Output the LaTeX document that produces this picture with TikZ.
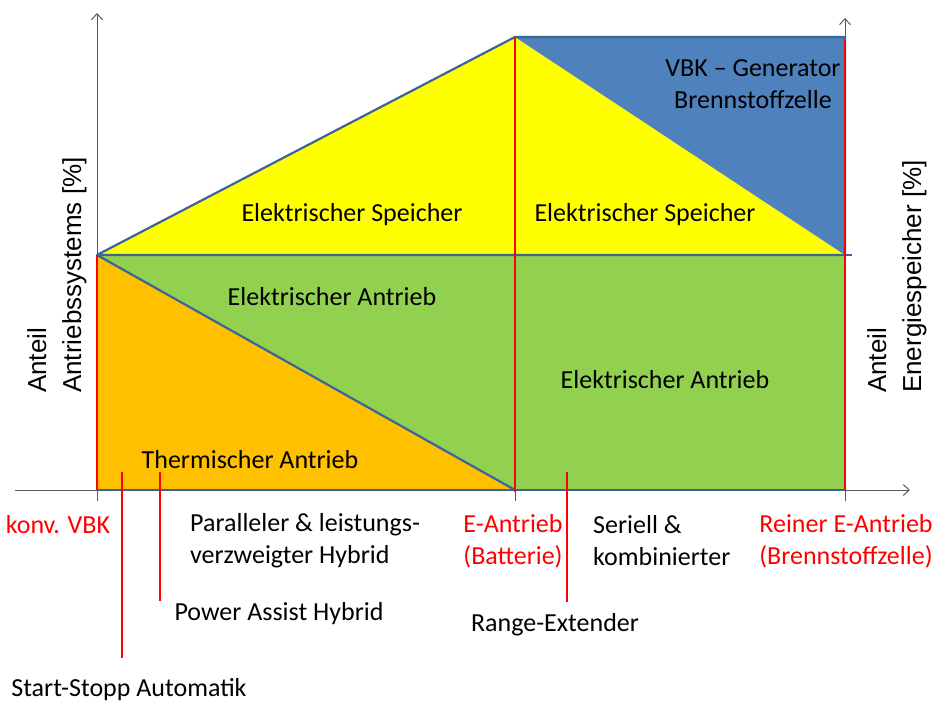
\documentclass[tikz,border=0pt]{standalone}
\usepackage{fontspec}
\setmainfont{Carlito}
\newfontfamily\axisfont{Liberation Sans}
\usetikzlibrary{arrows.meta}

\definecolor{thermorange}{HTML}{FFC000}
\definecolor{antgreen}{HTML}{92D050}
\definecolor{specyellow}{HTML}{FFFF00}
\definecolor{genblue}{HTML}{4F81BD}
\definecolor{edgeblue}{HTML}{3D6496}
\definecolor{axisgray}{HTML}{595959}
\definecolor{markred}{HTML}{FF0000}

\begin{document}
\begin{tikzpicture}[
    x=1pt, y=-1pt, line join=round,
    area/.style     ={draw=edgeblue, line width=2.2pt},
    axisline/.style ={draw=axisgray, line width=1pt},
    redmark/.style  ={draw=markred, line width=2pt},
    inlab/.style    ={font=\fontsize{26}{32}\selectfont, text=black, align=center, inner sep=0pt},
    botlab/.style   ={font=\fontsize{26}{32}\selectfont, text=black, align=left, inner sep=0pt},
    redlab/.style   ={font=\fontsize{26}{32}\selectfont, text=markred, align=center, inner sep=0pt},
    axlab/.style    ={font=\axisfont\fontsize{26}{35}\selectfont, align=left, rotate=90, anchor=north west, inner sep=0pt}
]
\useasboundingbox (0,0) rectangle (937,708);

% corner points of the areas
\coordinate (L)  at (97,255);
\coordinate (O)  at (97,490);
\coordinate (T)  at (515,37);
\coordinate (M)  at (515,255);
\coordinate (B)  at (515,490);
\coordinate (RT) at (845,37);
\coordinate (RM) at (845,255);
\coordinate (RB) at (845,490);

% fills
\fill[thermorange] (L) -- (B) -- (O) -- cycle;
\fill[antgreen] (L) -- (M) -- (RM) -- (RB) -- (B) -- cycle;
\fill[specyellow] (L) -- (T) -- (RM) -- cycle;
\fill[genblue] (T) -- (RT) -- (RM) -- cycle;

% axes
\draw[axisline, -{Straight Barb[length=6pt,width=11pt]}] (97,490) -- (97,13);
\draw[axisline, -{Straight Barb[length=6pt,width=11pt]}] (845,490) -- (845,18);
\draw[axisline, -{Straight Barb[length=6pt,width=11pt]}] (15,490) -- (910,490);
\foreach \tx in {97,515,845}
  \draw[axisline] (\tx,490) -- (\tx,501);

% outlines
\draw[area] (O) -- (RB);
\draw[area] (L) -- (B);
\draw[area] (L) -- (852,255);
\draw[area] (L) -- (T) -- (RT) -- (RM) -- cycle;

% red markers
\draw[redmark] (L) -- (O);
\draw[redmark] (T) -- (515,492);
\draw[redmark] (845,40) -- (RB);
\draw[redmark] (122,472) -- (122,658);
\draw[redmark] (160,472) -- (160,601);
\draw[redmark] (567,472) -- (567,602);

% area texts
\node[inlab] (gen)  at (753,84)  {VBK -- Generator\\Brennstoffzelle};
\node[inlab] (sp1)  at (352,215) {Elektrischer Speicher};
\node[inlab] (sp2)  at (645,215) {Elektrischer Speicher};
\node[inlab] (an1)  at (332,297) {Elektrischer Antrieb};
\node[inlab] (an2)  at (665,380) {Elektrischer Antrieb};
\node[inlab] (th)   at (250,460) {Thermischer Antrieb};

% axis labels
\node[axlab] (yl) at (27,393)  {Anteil\\Antriebssystems [\%]};
\node[axlab] (yr) at (867,393) {Anteil\\Energiespeicher [\%]};

% labels below the axis
\node[redlab] (vbk)  at (58,525)  {konv. VBK};
\node[botlab, anchor=west] (par) at (190,541) {Paralleler \& leistungs-\\verzweigter Hybrid};
\node[redlab] (bat)  at (513,541) {E-Antrieb\\(Batterie)};
\node[botlab, anchor=west] (ser) at (593,541) {Seriell \&\\kombinierter};
\node[redlab] (bz)   at (846,541) {Reiner E-Antrieb\\(Brennstoffzelle)};
\node[inlab] (pah)  at (279,614) {Power Assist Hybrid};
\node[inlab] (rex)  at (555,625) {Range-Extender};
\node[inlab] (ssa)  at (129,690) {Start-Stopp Automatik};
\end{tikzpicture}
\end{document}
